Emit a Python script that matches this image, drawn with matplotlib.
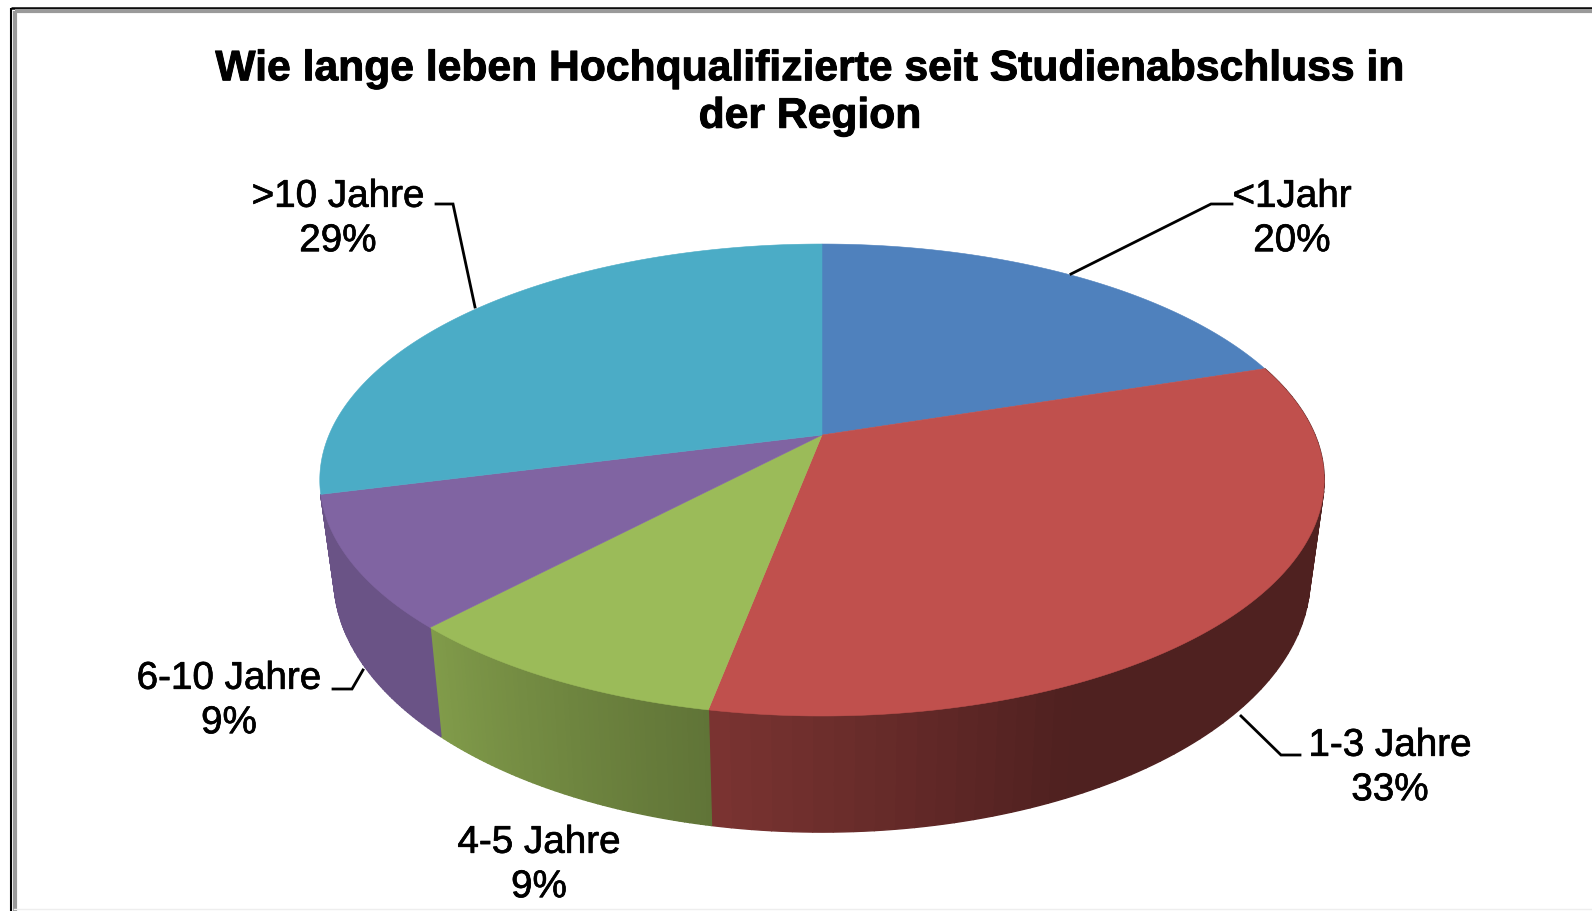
import numpy as np
import matplotlib
matplotlib.use("Agg")
import matplotlib.pyplot as plt
import matplotlib.patheffects as pe

plt.rcParams['font.family'] = ['Liberation Sans', 'DejaVu Sans']

title = "Wie lange leben Hochqualifizierte seit Studienabschluss in\nder Region"
categories = ["<1Jahr", "1-3 Jahre", "4-5 Jahre", "6-10 Jahre", ">10 Jahre"]
shares = [20, 33, 9, 9, 29]

colors = ["#4f81bd", "#c0504d", "#9bbb59", "#8064a2", "#4bacc6"]
# wall shading along each slice (clockwise), fraction -> brightness factor
# back slices have no visible wall
wall_shade = [
    None,
    ([0, 0.7, 1], [0.41, 0.41, 0.64]),
    ([0, 1], [0.62, 0.83]),
    ([0, 1], [0.83, 0.83]),
    None,
]

# label centres and leader lines, in picture pixels
label_pos = [(1292, 219), (1390, 768), (539, 865), (229, 701), (338, 219)]
leaders = [
    [(1232, 204), (1211, 204), (1071, 274)],
    [(1241, 716), (1281, 755), (1300, 755)],
    None,
    [(333, 689), (352, 689), (363, 670)],
    [(436, 204), (453, 204), (475, 307)],
]

# perspective of the disc
cx, cy = 822, 435
rx, ry, persp = 493, 227.4, 0.1907
depth = 94
taper = 0.028


def project(t, z=0.0):
    # t clockwise from top, radians
    x, y = np.sin(t), np.cos(t)
    w = 1 + persp * y
    return cx + rx * (1 - taper * z) * x / w, cy - ry * y / w + z * depth / w


fig = plt.figure(figsize=(15.92, 9.11), dpi=100)
ax = fig.add_axes([0, 0, 1, 1])
ax.set_xlim(0, 1592)
ax.set_ylim(911, 0)
ax.axis('off')

# frame
ax.plot([11, 11], [911, 8], color='black', lw=1.5, solid_capstyle='butt')
ax.plot([11, 1592], [8, 8], color='black', lw=1.8, solid_capstyle='butt')
ax.plot([14.5, 14.5], [911, 11], color='#9a9a9a', lw=3, solid_capstyle='butt')
ax.plot([14.5, 1592], [11, 11], color='#9a9a9a', lw=3, solid_capstyle='butt')
ax.plot([14, 1592], [908.5, 908.5], color='#eeeeee', lw=1)

edges = np.cumsum([0] + shares) / sum(shares) * 2 * np.pi

# side walls
for i, c in enumerate(colors):
    if wall_shade[i] is None:
        continue
    base = np.array(matplotlib.colors.to_rgb(c))
    n = 60
    ts = np.linspace(edges[i], edges[i + 1], n + 1)
    for j in range(n):
        f = np.interp((j + 0.5) / n, *wall_shade[i])
        tt = np.linspace(ts[j], ts[j + 1], 3)
        x0, y0 = project(tt)
        x1, y1 = project(tt[::-1], 1.0)
        col = base * f
        ax.fill(np.r_[x0, x1], np.r_[y0, y1], color=col, lw=1, zorder=2)

# top surface
for i, c in enumerate(colors):
    tt = np.linspace(edges[i], edges[i + 1], 200)
    x, y = project(tt)
    ax.fill(np.r_[cx, x], np.r_[cy, y], color=c, lw=0.4, zorder=3)

ax.text(810, 93, title, ha='center', va='center', fontsize=30.7, fontweight='bold',
        linespacing=1.24, color='black',
        path_effects=[pe.withStroke(linewidth=0.7, foreground='black')])

for i, name in enumerate(categories):
    ax.text(label_pos[i][0], label_pos[i][1], f"{name}\n{shares[i]}%", ha='center', va='center',
            fontsize=27.8, linespacing=1.3, color='black', zorder=5,
            path_effects=[pe.withStroke(linewidth=0.5, foreground='black')])
    if leaders[i] is not None:
        lx, ly = zip(*leaders[i])
        ax.plot(lx, ly, color='black', lw=2, zorder=4, solid_joinstyle='miter')

fig.savefig("out.png", dpi=100, facecolor='white')
